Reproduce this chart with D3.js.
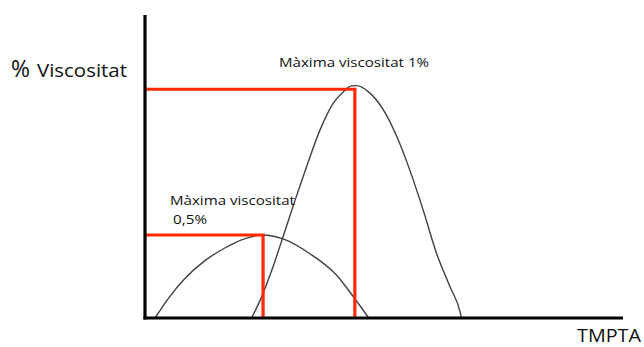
<!DOCTYPE html>
<html>
<head>
<meta charset="utf-8">
<script src="https://cdn.jsdelivr.net/npm/d3@7"></script>
<style>
  body { margin: 0; background: #fff; }
  text { font-family: "Open Sans", Lato, sans-serif; fill: #111; }
</style>
</head>
<body>
<div id="chart"></div>
<script>
// curves: x = TMPTA (arbitrary units), y = % viscositat
var curve1pct_x = [22.3, 24.1, 26.8, 28.9, 31.4, 33.8, 36.6, 39.4, 41.5, 43.2, 44.3, 46.7, 49.9, 52.7, 55.4, 58.2, 61.0, 63.8, 66.0, 66.2]
var curve1pct_y = [0, 5.9, 17.0, 26.9, 38.9, 49.9, 62.0, 70.9, 74.7, 76.6, 76.7, 74.7, 68.6, 59.8, 48.8, 35.6, 21.3, 10.3, 1.5, 0]

var curve05pct_x = [2.1, 4.9, 8.4, 12.6, 16.7, 20.2, 24.7, 28.9, 34.5, 40.1, 43.6, 46.8]
var curve05pct_y = [0, 6.5, 13.1, 19.0, 23.1, 25.8, 27.4, 26.1, 21.2, 14.1, 7.0, 0]

// maxima marked in red
var maxima_x = [43.9, 24.7]
var maxima_y = [75.5, 27.4]
var maxima_labels = [["Màxima viscositat 1%"], ["Màxima viscositat", "0,5%"]]

var yLabel = "Viscositat"
var xLabel = "TMPTA"

var width = 644
var height = 347

var svg = d3.select("#chart")
            .append("svg")
            .attr("width", width)
            .attr("height", height)

var x = d3.scaleLinear().domain([0, 100]).range([145, 623])
var y = d3.scaleLinear().domain([0, 100]).range([318, 15])

function toPoints(xs, ys){
    var pts = []
    for (var i = 0; i < xs.length; i++) {
        pts.push([xs[i], ys[i]])
    }
    return pts
}

var line = d3.line()
             .x(function(d){ return x(d[0]) })
             .y(function(d){ return y(d[1]) })
             .curve(d3.curveMonotoneX)

svg.selectAll("path.curve")
   .data([toPoints(curve05pct_x, curve05pct_y), toPoints(curve1pct_x, curve1pct_y)])
   .enter()
   .append("path")
   .attr("class", "curve")
   .attr("d", line)
   .attr("fill", "none")
   .attr("stroke", "#404040")
   .attr("stroke-width", 1.4)

// red guide lines to each maximum
var maxima = toPoints(maxima_x, maxima_y)
svg.selectAll("path.guide")
   .data(maxima)
   .enter()
   .append("path")
   .attr("class", "guide")
   .attr("d", function(d){
       return "M" + x(0) + "," + y(d[1]) + "H" + x(d[0]) + "V" + y(0)
   })
   .attr("fill", "none")
   .attr("stroke", "#ff2a00")
   .attr("stroke-width", 3.2)

// axes (plain lines, no ticks)
svg.append("line")
   .attr("x1", x(0)).attr("x2", x(0))
   .attr("y1", y(100)).attr("y2", y(0) + 1.5)
   .attr("stroke", "#000").attr("stroke-width", 3.2)
svg.append("line")
   .attr("x1", x(0) - 1.5).attr("x2", x(100))
   .attr("y1", y(0)).attr("y2", y(0))
   .attr("stroke", "#000").attr("stroke-width", 3.2)

// text helper: the source picture is a bit stretched sideways, so fix widths
function label(tx, ty, size, len, s){
    return svg.append("text")
              .attr("x", tx).attr("y", ty)
              .attr("font-size", size)
              .attr("textLength", len)
              .attr("lengthAdjust", "spacingAndGlyphs")
              .text(s)
}

// axis titles
label(11, 77, 24, 19, "%")
label(37, 77, 19, 90, yLabel)
label(577, 342, 18, 64, xLabel)

// maxima labels
var labelPos = [[[279, 67, 150]], [[170, 205, 125], [173, 224, 34]]]
maxima_labels.forEach(function(lines, i){
    lines.forEach(function(s, j){
        var p = labelPos[i][j]
        label(p[0], p[1], 12.5, p[2], s)
    })
})
</script>
</body>
</html>
